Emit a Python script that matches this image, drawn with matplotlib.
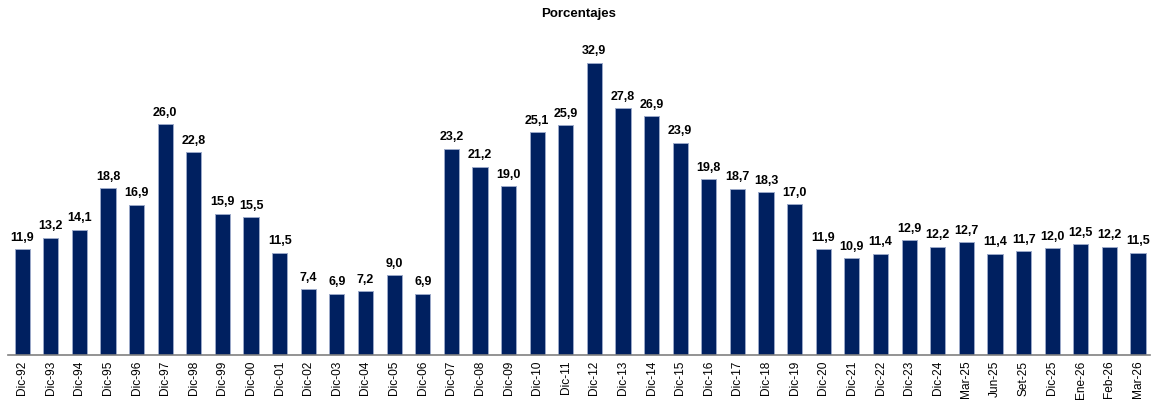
import matplotlib
matplotlib.use("Agg")
import matplotlib.pyplot as plt

plt.rcParams['font.family'] = ['Liberation Sans', 'DejaVu Sans']

categories = ["Dic-92", "Dic-93", "Dic-94", "Dic-95", "Dic-96", "Dic-97", "Dic-98", "Dic-99",
              "Dic-00", "Dic-01", "Dic-02", "Dic-03", "Dic-04", "Dic-05", "Dic-06", "Dic-07",
              "Dic-08", "Dic-09", "Dic-10", "Dic-11", "Dic-12", "Dic-13", "Dic-14", "Dic-15",
              "Dic-16", "Dic-17", "Dic-18", "Dic-19", "Dic-20", "Dic-21", "Dic-22", "Dic-23",
              "Dic-24", "Mar-25", "Jun-25", "Set-25", "Dic-25", "Ene-26", "Feb-26", "Mar-26"]
values = [11.9, 13.2, 14.1, 18.8, 16.9, 26.0, 22.8, 15.9, 15.5, 11.5, 7.4, 6.9, 7.2, 9.0, 6.9,
          23.2, 21.2, 19.0, 25.1, 25.9, 32.9, 27.8, 26.9, 23.9, 19.8, 18.7, 18.3, 17.0,
          11.9, 10.9, 11.4, 12.9, 12.2, 12.7, 11.4, 11.7, 12.0, 12.5, 12.2, 11.5]

fig = plt.figure(figsize=(11.57, 4.03), dpi=100)
ax = fig.add_axes([0.007, 0.119, 0.987, 0.794])
x = list(range(len(values)))
ax.bar(x, values, width=0.53, color='#002060', edgecolor='#9AA8C8', linewidth=0.7)
for xi, v in zip(x, values):
    ax.text(xi, v + 0.6, f"{v:.1f}".replace('.', ','), ha='center', va='bottom',
            fontsize=9, fontweight='bold', color='black')
ax.set_xlim(-0.49, 39.42)
ax.set_ylim(0, 36)
ax.set_xticks(x)
ax.set_xticklabels(categories, rotation=90, fontsize=8.6)
ax.tick_params(axis='x', length=0, pad=4)
ax.set_yticks([])
for s in ['top', 'right', 'left']:
    ax.spines[s].set_visible(False)
ax.spines['bottom'].set_color('#808080')
ax.spines['bottom'].set_linewidth(1.2)
fig.text(0.5, 0.965, "Porcentajes", ha='center', va='center', fontsize=9.5, fontweight='bold')
fig.savefig("out.png", dpi=100)
